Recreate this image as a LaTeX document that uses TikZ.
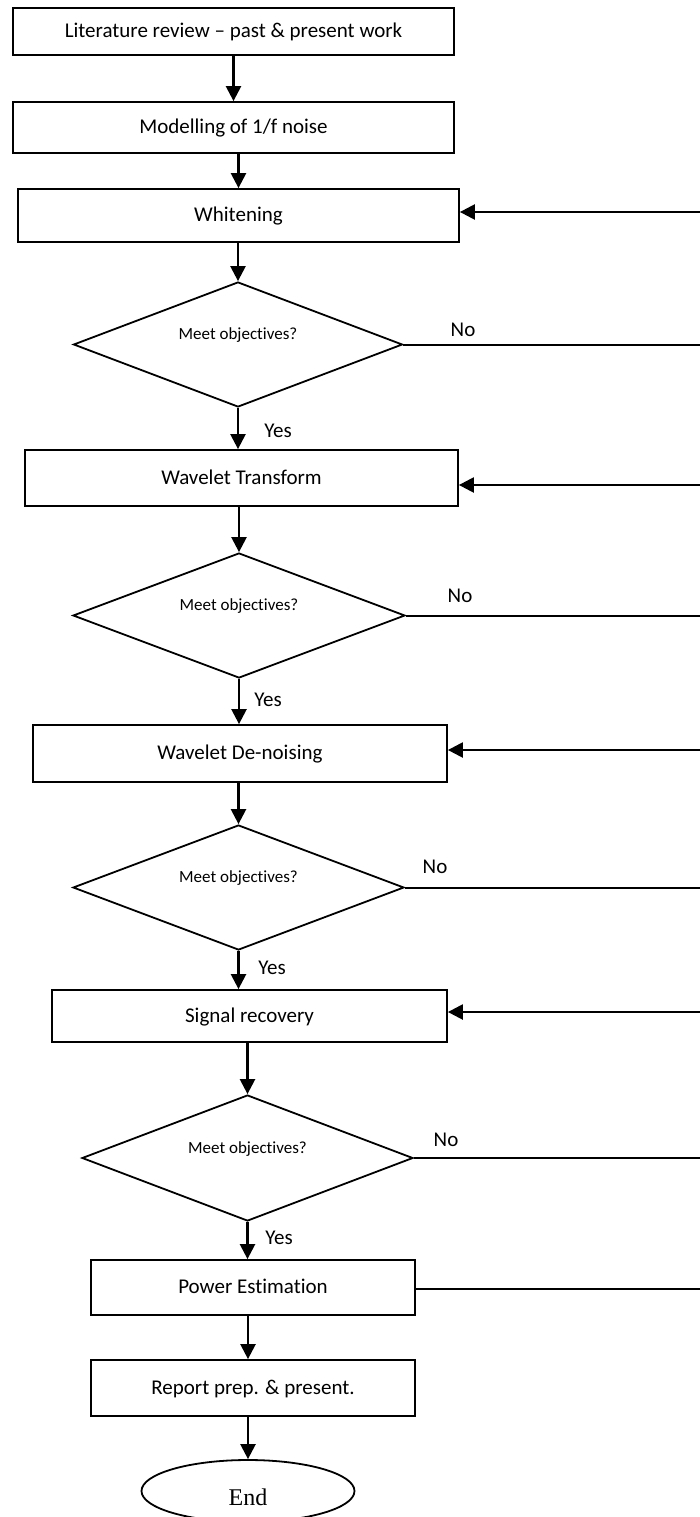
\documentclass[tikz,border=0pt]{standalone}
\usepackage{fontspec}
\setmainfont{Carlito}[Ligatures=NoCommon]
\newfontfamily\endfont{Liberation Serif}
\usetikzlibrary{shapes.geometric,arrows.meta}
\begin{document}
\begin{tikzpicture}[x=1pt,y=-1pt,
  box/.style={draw,line width=1.8pt,rectangle,inner sep=0pt,text height=15pt,text depth=3pt,font=\fontsize{21}{25}\selectfont},
  dec/.style={draw,line width=1.8pt,diamond,inner sep=0pt,aspect=2.6},
  dectext/.style={font=\fontsize{17}{20}\selectfont,inner sep=0pt,yshift=9pt},
  endtext/.style={font=\endfont\fontsize{24}{28}\selectfont,inner sep=0pt,yshift=-6pt},
  arr/.style={line width=2.4pt,-{Triangle[length=15pt,width=15pt]}},
  fb/.style={line width=2.4pt,-{Triangle[length=15pt,width=15pt]}},
  ln/.style={line width=2pt},
  lab/.style={font=\fontsize{21}{25}\selectfont,inner sep=0pt}]
\useasboundingbox (0,0) rectangle (700,1517);

% process boxes
\node[box,minimum width=441pt,minimum height=47pt] (B1) at (233.5,31.5) {Literature review – past \& present work};
\node[box,minimum width=441pt,minimum height=51pt] (B2) at (233.5,127.5) {Modelling of 1/f noise};
\node[box,minimum width=441pt,minimum height=53pt] (B3) at (238.5,215.5) {Whitening};
\node[dec,minimum width=329pt,minimum height=125pt,label={[dectext]center:Meet objectives?}] (D1) at (238,344.5) {};
\node[box,minimum width=433pt,minimum height=56pt] (B4) at (241.5,478) {Wavelet Transform};
\node[dec,minimum width=332pt,minimum height=125pt,label={[dectext]center:Meet objectives?}] (D2) at (239,615.5) {};
\node[box,minimum width=414pt,minimum height=57pt] (B5) at (240,753.5) {Wavelet De-noising};
\node[dec,minimum width=331pt,minimum height=125pt,label={[dectext]center:Meet objectives?}] (D3) at (238.5,887.5) {};
\node[box,minimum width=395pt,minimum height=52pt] (B6) at (249.5,1016) {Signal recovery};
\node[dec,minimum width=331pt,minimum height=126pt,label={[dectext]center:Meet objectives?}] (D4) at (247.5,1158) {};
\node[box,minimum width=324pt,minimum height=55pt] (B7) at (253,1287.5) {Power Estimation};
\node[box,minimum width=324pt,minimum height=56pt] (B8) at (253,1388) {Report prep. \& present.};
\node[draw,line width=1.8pt,ellipse,inner sep=0pt,minimum width=213pt,minimum height=62pt,label={[endtext]center:End}] (E) at (248,1491) {};

% right-edge free ends
\coordinate (f3) at (700,212);
\coordinate (f4) at (700,485);
\coordinate (f5) at (700,750);
\coordinate (f6) at (700,1012);
\coordinate (n1) at (700,344.5);
\coordinate (n2) at (700,615.5);
\coordinate (n3) at (700,887.5);
\coordinate (n4) at (700,1158);
\coordinate (p7) at (700,1289);

% main flow
\draw[arr] (B1.south) -- (B2.north);
\draw[arr] (B2.south -| B3.north) -- (B3.north);
\draw[arr] (B3.south -| D1.north) -- (D1.north);
\draw[arr] (D1.south) -- (D1.south |- B4.north);
\draw[arr] (B4.south -| D2.north) -- (D2.north);
\draw[arr] (D2.south) -- (D2.south |- B5.north);
\draw[arr] (B5.south -| D3.north) -- (D3.north);
\draw[arr] (D3.south) -- (D3.south |- B6.north);
\draw[arr] (B6.south -| D4.north) -- (D4.north);
\draw[arr] (D4.south) -- (D4.south |- B7.north);
\draw[arr] (B7.south -| E.north) -- (B8.north -| E.north);
\draw[arr] (B8.south -| E.north) -- (E.north);

% "No" branches
\draw[ln] (D1.east) -- (n1);
\draw[ln] (D2.east) -- (n2);
\draw[ln] (D3.east) -- (n3);
\draw[ln] (D4.east) -- (n4);
\draw[ln] (B7.east |- p7) -- (p7);

% feedback arrows
\draw[fb] (f3) -- (f3 -| B3.east);
\draw[fb] (f4) -- (f4 -| B4.east);
\draw[fb] (f5) -- (f5 -| B5.east);
\draw[fb] (f6) -- (f6 -| B6.east);

% labels
\node[lab] (no1) at (463,330) {No};
\node[lab] (no2) at (460,596) {No};
\node[lab] (no3) at (435,867) {No};
\node[lab] (no4) at (446,1140) {No};
\node[lab] (yes1) at (278,431) {Yes};
\node[lab] (yes2) at (268,700) {Yes};
\node[lab] (yes3) at (272,968) {Yes};
\node[lab] (yes4) at (279,1238) {Yes};
\end{tikzpicture}
\end{document}
